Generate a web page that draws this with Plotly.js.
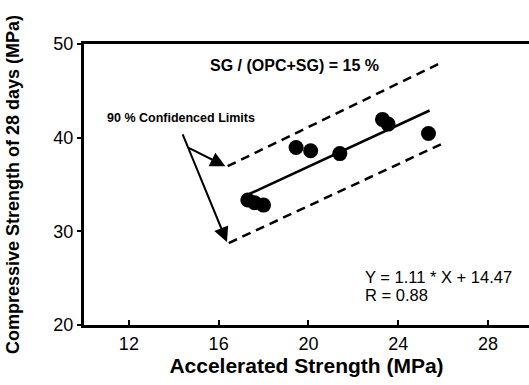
<!DOCTYPE html>
<html>
<head>
<meta charset="utf-8">
<script src="https://cdn.plot.ly/plotly-3.0.1.min.js"></script>
<style>html,body{margin:0;padding:0;background:#fff;}#chart{width:529px;height:385px;}</style>
</head>
<body>
<div id="chart"></div>
<script>
// Measured data points (Accelerated strength vs 28-day compressive strength)
const accelStrength = [17.3, 17.6, 18.0, 19.45, 20.1, 21.4, 23.3, 23.55, 25.35];
const compStrength  = [33.35, 33.05, 32.8, 38.95, 38.6, 38.3, 41.95, 41.45, 40.45];

// Regression line endpoints (Y = 1.11 * X + 14.47)
const fitX = [17.2, 25.4];
const fitY = [33.8, 42.9];

// 90 % confidence limits
const upperX = [16.4, 25.95];
const upperY = [36.95, 48.05];
const lowerX = [16.45, 26.0];
const lowerY = [28.75, 39.4];

// Arrows (tail -> head) for the confidence-limit label
const arrowTailX = [14.6, 14.37];
const arrowTailY = [39.0, 40.5];
const arrowHeadX = [16.3, 16.37];
const arrowHeadY = [36.95, 28.85];

const xTicks = [12, 16, 20, 24, 28];
const yTicks = [20, 30, 40, 50];

const FONT = 'Liberation Sans, Arial, Helvetica, sans-serif';

const traces = [
  {x: upperX, y: upperY, mode: 'lines', line: {color: '#000', width: 2.5, dash: '9px,6px'}, hoverinfo: 'skip'},
  {x: lowerX, y: lowerY, mode: 'lines', line: {color: '#000', width: 2.5, dash: '9px,6px'}, hoverinfo: 'skip'},
  {x: fitX, y: fitY, mode: 'lines', line: {color: '#000', width: 2.5}, hoverinfo: 'skip'},
  {x: accelStrength, y: compStrength, mode: 'markers', marker: {color: '#000', size: 15}}
];

const annotations = [
  {x: 19.4, y: 47.75, xref: 'x', yref: 'y', text: 'SG / (OPC+SG) = 15 %', showarrow: false,
   font: {family: FONT, size: 16, color: '#000', weight: 'bold'}},
  {x: 14.3, y: 42.1, xref: 'x', yref: 'y', text: '90 % Confidenced Limits', showarrow: false,
   font: {family: FONT, size: 12.5, color: '#000', weight: 'bold'}},
  {x: 22.43, y: 25.1, xref: 'x', yref: 'y', xanchor: 'left', text: 'Y = 1.11 * X + 14.47', showarrow: false,
   font: {family: FONT, size: 16.5, color: '#000'}},
  {x: 22.43, y: 23.2, xref: 'x', yref: 'y', xanchor: 'left', text: 'R = 0.88', showarrow: false,
   font: {family: FONT, size: 16.5, color: '#000'}}
];
for (let i = 0; i < arrowTailX.length; i++) {
  annotations.push({
    x: arrowHeadX[i], y: arrowHeadY[i], xref: 'x', yref: 'y',
    ax: arrowTailX[i], ay: arrowTailY[i], axref: 'x', ayref: 'y',
    text: '', showarrow: true, arrowhead: 2, arrowsize: 1.5, arrowwidth: 2, arrowcolor: '#000', standoff: 0
  });
}

const layout = {
  width: 529, height: 385,
  margin: {l: 84, r: 0, t: 44, b: 60},
  paper_bgcolor: '#fff', plot_bgcolor: '#fff',
  showlegend: false,
  font: {family: FONT, color: '#000'},
  xaxis: {
    range: [10, 29.83], tickvals: xTicks, ticktext: xTicks.map(String),
    ticks: 'inside', ticklen: 5, tickwidth: 2, tickcolor: '#000',
    showgrid: false, zeroline: false,
    showline: true, linewidth: 3, linecolor: '#000', mirror: true,
    tickfont: {family: FONT, size: 18, color: '#000'},
    title: {text: 'Accelerated Strength (MPa)', font: {family: FONT, size: 21, color: '#000', weight: 'bold'}, standoff: 4}
  },
  yaxis: {
    range: [20, 50], tickvals: yTicks, ticktext: yTicks.map(String),
    ticks: 'outside', ticklen: 4, tickwidth: 2, tickcolor: '#000',
    showgrid: false, zeroline: false,
    showline: true, linewidth: 3, linecolor: '#000',
    tickfont: {family: FONT, size: 18, color: '#000'},
    title: {text: 'Compressive Strength of 28 days (MPa)', font: {family: FONT, size: 18, color: '#000', weight: 'bold'}, standoff: 30}
  },
  annotations: annotations
};

Plotly.newPlot('chart', traces, layout, {displayModeBar: false, staticPlot: true});
</script>
</body>
</html>
